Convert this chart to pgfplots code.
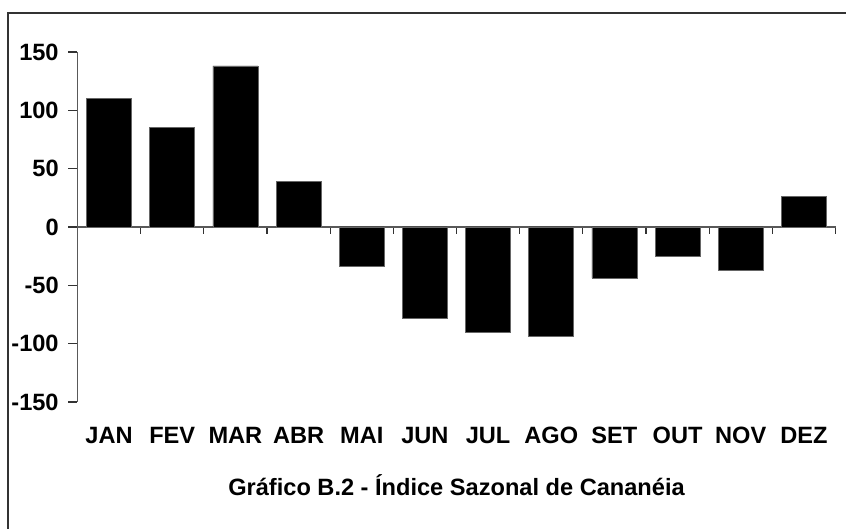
\documentclass[border=0pt]{standalone}
\usepackage{fontspec}
\setmainfont{Liberation Sans}
\usepackage{pgfplots}
\pgfplotsset{compat=1.18}

\begin{document}
\begin{tikzpicture}
% 1 px of the reference = 0.5pt
\useasboundingbox (0,0) rectangle (423pt,264.5pt);
\draw[line width=0.7pt, black!80] (4pt,-5pt) -- (4pt,258pt) -- (430pt,258pt);
\begin{axis}[
    at={(38.75pt,63.5pt)}, anchor=south west,
    scale only axis,
    width=379pt, height=175pt,
    xmin=0.5, xmax=12.5,
    ymin=-150, ymax=150,
    axis y line*=left,
    axis x line*=middle,
    axis line style={black!65, line width=0.6pt},
    ytick={-150,-100,-50,0,50,100,150},
    yticklabels={-150,-100,-50,0,50,100,150},
    xtick={1,...,12},
    xticklabels={JAN,FEV,MAR,ABR,MAI,JUN,JUL,AGO,SET,OUT,NOV,DEZ},
    minor xtick={1.5,2.5,...,12.5},
    tick align=outside,
    major tick length=4.5pt,
    minor tick length=3.5pt,
    tick style={black!80, line width=0.6pt},
    major x tick style={draw=none},
    ticklabel style={font=\fontsize{11.8}{14}\selectfont\bfseries},
    xticklabel style={yshift=-92.2pt},
    yticklabel style={xshift=-1.4pt},
    ybar,
    bar width=22.5pt,
]
\addplot[fill=black, draw=black!60, line width=0.4pt] coordinates {
 (1,110.5)
 (2,85.6)
 (3,138)
 (4,38.7)
 (5,-33.5)
 (6,-78.7)
 (7,-90.7)
 (8,-93.6)
 (9,-43.8)
 (10,-25.2)
 (11,-37.5)
 (12,26.4)
};
\end{axis}
\node[anchor=base, font=\fontsize{11.8}{14}\selectfont\bfseries]
    at (228.25pt,16.5pt) {Gráfico B.2 - Índice Sazonal de Cananéia};
\end{tikzpicture}
\end{document}
